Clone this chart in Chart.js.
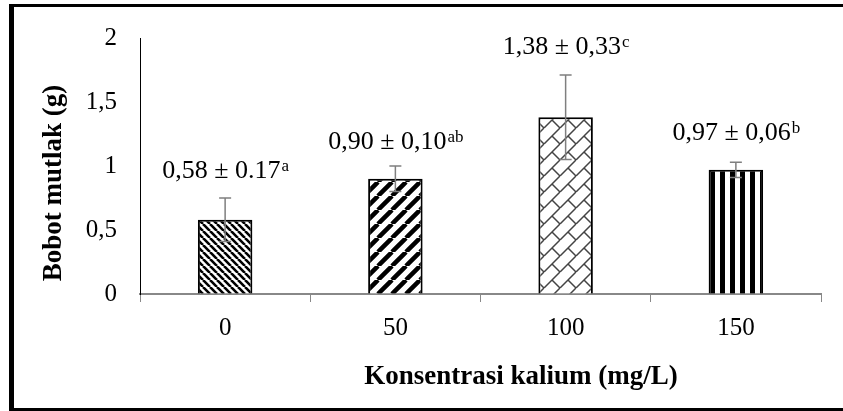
<!DOCTYPE html>
<html>
<head>
<meta charset="utf-8">
<script src="https://cdn.jsdelivr.net/npm/chart.js@4.4.1/dist/chart.umd.min.js"></script>
<style>
  html, body { margin: 0; padding: 0; background: #fff; }
  #wrap { position: relative; width: 843px; height: 411px; overflow: hidden; }
  #frame { position: absolute; left: 9px; top: 4px; width: 900px; height: 401px;
           border-left: 5px solid #000; border-top: 3px solid #000; border-bottom: 3px solid #000; }
  #chart { position: absolute; left: 0; top: 0; }
</style>
</head>
<body>
<div id="wrap">
  <div id="frame"></div>
  <canvas id="chart" width="843" height="411"></canvas>
</div>
<script>
// Bobot mutlak per konsentrasi kalium
var categories = ['0', '50', '100', '150'];
var means = [0.58, 0.90, 1.38, 0.97];
var sds = [0.17, 0.10, 0.33, 0.06];
var labelTexts = ['0,58 \u00b1 0.17', '0,90 \u00b1 0,10', '1,38 \u00b1 0,33', '0,97 \u00b1 0,06'];
var letters = ['a', 'ab', 'c', 'b'];
var yTicks = [0, 0.5, 1, 1.5, 2];

// where each label sits, in y-axis units (middle of the digits)
var labelAt = [0.975, 1.20, 1.945, 1.27];

var SERIF = '"Liberation Serif", "Times New Roman", serif';

function makePattern(size, draw){
  var c = document.createElement('canvas');
  c.width = size; c.height = size;
  var g = c.getContext('2d');
  g.fillStyle = '#fff';
  g.fillRect(0, 0, size, size);
  draw(g, size);
  return g.createPattern(c, 'repeat');
}

var patDown = makePattern(7, function(g, s){
  g.strokeStyle = '#000'; g.lineWidth = 2.6;
  g.beginPath();
  for (var k = -1; k <= 1; k++){ g.moveTo(k*s, 0); g.lineTo(k*s + s, s); }
  g.stroke();
});
var patUp = makePattern(14, function(g, s){
  g.strokeStyle = '#000'; g.lineWidth = 4.5;
  g.beginPath();
  for (var k = -1; k <= 1; k++){ g.moveTo(k*s, s); g.lineTo(k*s + s, 0); }
  g.stroke();
});
var patBrick = makePattern(16, function(g, s){
  g.strokeStyle = '#444'; g.lineWidth = 1.5;
  g.beginPath();
  for (var k = -1; k <= 1; k++){ g.moveTo(k*s, s); g.lineTo(k*s + s, 0); }
  g.moveTo(s/2, s/2); g.lineTo(s, s);
  g.stroke();
});
var patVert = makePattern(10, function(g, s){
  g.fillStyle = '#000';
  g.fillRect(0, 0, 5, s);
});

var errorBars = {
  id: 'errorBars',
  afterDatasetsDraw: function(chart){
    var ctx = chart.ctx, x = chart.scales.x, y = chart.scales.y;
    ctx.save();
    ctx.strokeStyle = '#7f7f7f';
    ctx.lineWidth = 1.5;
    means.forEach(function(m, i){
      var px = x.getPixelForValue(i);
      var top = y.getPixelForValue(m + sds[i]);
      var bot = y.getPixelForValue(m - sds[i]);
      ctx.beginPath();
      ctx.moveTo(px, top); ctx.lineTo(px, bot);
      ctx.moveTo(px - 6, top); ctx.lineTo(px + 6, top);
      ctx.moveTo(px - 6, bot); ctx.lineTo(px + 6, bot);
      ctx.stroke();
    });
    ctx.restore();
  }
};

var barLabels = {
  id: 'barLabels',
  afterDraw: function(chart){
    var ctx = chart.ctx, x = chart.scales.x, y = chart.scales.y;
    var main = '26px ' + SERIF, sup = '17px ' + SERIF;
    ctx.save();
    ctx.fillStyle = '#000';
    ctx.textBaseline = 'alphabetic';
    ctx.textAlign = 'left';
    labelTexts.forEach(function(t, i){
      ctx.font = main; var w1 = ctx.measureText(t).width;
      ctx.font = sup; var w2 = ctx.measureText(letters[i]).width;
      var left = x.getPixelForValue(i) - (w1 + w2) / 2;
      var base = y.getPixelForValue(labelAt[i]) + 8.5;
      ctx.font = main; ctx.fillText(t, left, base);
      ctx.font = sup; ctx.fillText(letters[i], left + w1 + 1, base - 7);
    });
    ctx.restore();
  }
};

var axisTitles = {
  id: 'axisTitles',
  afterDraw: function(chart){
    var ctx = chart.ctx;
    ctx.save();
    ctx.fillStyle = '#000';
    ctx.font = 'bold 27px ' + SERIF;
    ctx.textAlign = 'center';
    ctx.textBaseline = 'middle';
    ctx.fillText('Konsentrasi kalium (mg/L)', 521, 377);
    ctx.translate(54, 183);
    ctx.rotate(-Math.PI / 2);
    ctx.fillText('Bobot mutlak (g)', 0, 0);
    ctx.restore();
  }
};

new Chart(document.getElementById('chart').getContext('2d'), {
  type: 'bar',
  data: {
    labels: categories,
    datasets: [{
      data: means,
      backgroundColor: [patDown, patUp, patBrick, patVert],
      borderColor: '#000',
      borderWidth: 2,
      categoryPercentage: 1,
      barPercentage: 0.32
    }]
  },
  options: {
    responsive: false,
    animation: false,
    events: [],
    layout: { padding: { left: 0, right: 22, top: 35, bottom: 0 } },
    plugins: { legend: { display: false }, tooltip: { enabled: false } },
    scales: {
      x: {
        offset: true,
        grid: { display: true, drawOnChartArea: false, drawTicks: true, tickLength: 8, offset: true, color: '#888', lineWidth: 1 },
        border: { display: true, color: '#888', width: 2 },
        ticks: { color: '#000', font: { family: SERIF, size: 25 }, padding: 11 },
        afterFit: function(s){ s.height = 117; }
      },
      y: {
        min: 0, max: 2,
        afterBuildTicks: function(s){ s.ticks = yTicks.map(function(v){ return { value: v }; }); },
        grid: { display: true, drawOnChartArea: false, drawTicks: false },
        border: { display: true, color: '#000', width: 1 },
        ticks: {
          color: '#000', font: { family: SERIF, size: 25 }, padding: 23,
          callback: function(v){ return String(v).replace('.', ','); }
        },
        afterFit: function(s){ s.width = 140; }
      }
    }
  },
  plugins: [errorBars, barLabels, axisTitles]
});
</script>
</body>
</html>
